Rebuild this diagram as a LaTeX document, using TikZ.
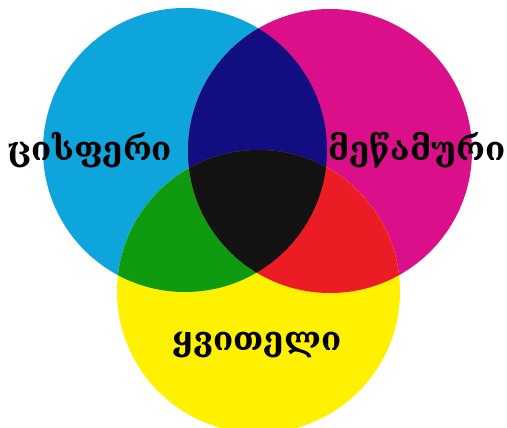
\documentclass[tikz,border=0pt]{standalone}
\usepackage{fontspec}
\newfontfamily\geofont{DejaVu Serif}
\definecolor{cC}{HTML}{0EA5DC}
\definecolor{cM}{HTML}{DC0F8A}
\definecolor{cY}{HTML}{FFF100}
\definecolor{cB}{HTML}{100E80}
\definecolor{cG}{HTML}{0F9B0F}
\definecolor{cR}{HTML}{EC1C24}
\definecolor{cK}{HTML}{121212}
\tikzset{label text/.style={font=\geofont\bfseries\fontsize{33}{36}\selectfont, text=black, inner sep=0pt}}
\begin{document}
\begin{tikzpicture}[x=1pt,y=-1pt]
\useasboundingbox (0,0) rectangle (507,428);
\def\Cc{(185,150) circle (142)}
\def\Mc{(330,151) circle (142)}
\def\Yc{(258.5,291.5) circle (141.5)}
\clip (0,0) rectangle (507,428);
\fill[cC] \Cc;
\fill[cM] \Mc;
\fill[cY] \Yc;
\begin{scope}\clip \Cc; \fill[cB] \Mc; \end{scope}
\begin{scope}\clip \Cc; \fill[cG] \Yc; \end{scope}
\begin{scope}\clip \Mc; \fill[cR] \Yc; \end{scope}
\begin{scope}\clip \Cc; \clip \Mc; \fill[cK] \Yc; \end{scope}
\node[label text] (cyan) at (90,150) {ცისფერი};
\node[label text] (magenta) at (417,150) {მეწამური};
\node[label text] (yellow) at (257,345) {ყვითელი};
\end{tikzpicture}
\end{document}
